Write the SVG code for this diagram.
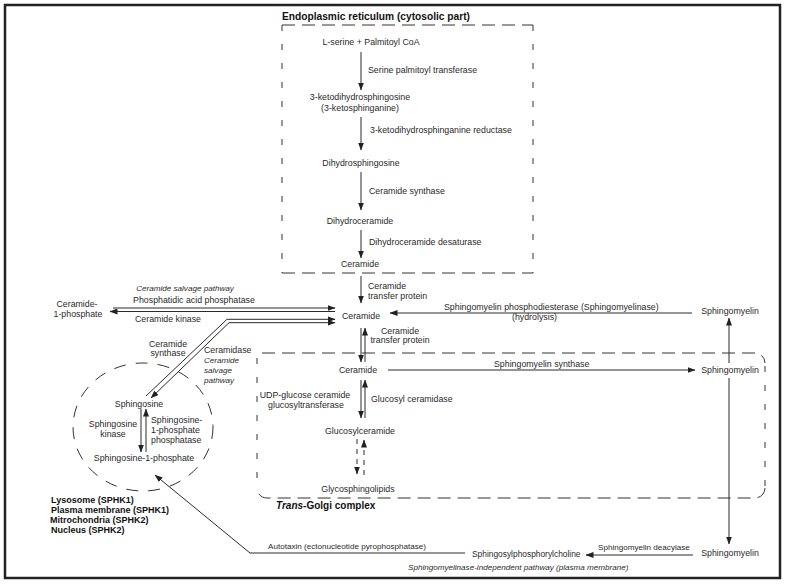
<svg xmlns="http://www.w3.org/2000/svg" width="788" height="585" viewBox="0 0 788 585">
<defs>
<marker id="ah" markerUnits="userSpaceOnUse" markerWidth="8" markerHeight="6" refX="7.5" refY="3" orient="auto">
<path d="M0,0 L8,3 L0,6 z" fill="#222"/>
</marker>
<marker id="ahs" markerUnits="userSpaceOnUse" markerWidth="8" markerHeight="6" refX="7.5" refY="3" orient="auto-start-reverse">
<path d="M0,0 L8,3 L0,6 z" fill="#222"/>
</marker>
<style>
text{font-family:"Liberation Sans",Arial,sans-serif;font-size:8.8px;fill:#2a2a2a}
.m{text-anchor:middle}
.b{font-weight:bold;fill:#111}
.my{font-size:8.1px}
.it{font-style:italic}
.c{stroke:#2a2a2a;stroke-width:1;fill:none}
.a{marker-end:url(#ah)}
.dh{stroke:#333;stroke-width:1;stroke-dasharray:13 7;fill:none}
.dv{stroke:#333;stroke-width:1;stroke-dasharray:6 13;fill:none}
</style>
</defs>
<rect x="0" y="0" width="788" height="585" fill="#fff"/>
<rect x="5" y="5" width="775" height="573" fill="#fff" stroke="#222" stroke-width="2.5"/>

<g id="er-compartment">
<line class="dh" x1="282" y1="25" x2="533" y2="25"/>
<line class="dh" x1="282" y1="273" x2="533" y2="273"/>
<line class="dv" x1="282" y1="25" x2="282" y2="273"/>
<line class="dv" x1="533" y1="25" x2="533" y2="273"/>
<text class="b m" x="376" y="20" style="font-size:10.2px">Endoplasmic reticulum (cytosolic part)</text>
</g>

<g id="golgi-compartment">
<path class="dh" d="M262,353 H755 A10,10 0 0 1 765,363"/>
<path class="dh" d="M765,488 A10,10 0 0 1 755,498 H267 A10,10 0 0 1 257,488"/>
<line class="dv" x1="257" y1="358" x2="257" y2="488"/>
<line class="dv" x1="765" y1="366" x2="765" y2="488"/>
<text class="b" x="276" y="509" style="font-size:10px"><tspan font-style="italic">Trans</tspan>-Golgi complex</text>
</g>

<g id="cytosol-compartment">
<ellipse cx="143" cy="427" rx="70" ry="64" fill="none" stroke="#333" stroke-width="1" stroke-dasharray="12 10"/>
</g>

<g id="n-serine"><text class="m" x="371" y="45">L-serine + Palmitoyl CoA</text></g>
<g id="n-keto"><text class="m" x="360" y="100">3-ketodihydrosphingosine</text><text class="m" x="360" y="111">(3-ketosphinganine)</text></g>
<g id="n-dhsph"><text class="m" x="361" y="166">Dihydrosphingosine</text></g>
<g id="n-dhcer"><text class="m" x="360" y="224">Dihydroceramide</text></g>
<g id="n-cer-er"><text class="m" x="360" y="267">Ceramide</text></g>
<g id="n-cer"><text class="m" x="361" y="319">Ceramide</text></g>
<g id="n-cer-golgi"><text class="m" x="358" y="373">Ceramide</text></g>
<g id="n-glccer"><text class="m" x="360" y="434">Glucosylceramide</text></g>
<g id="n-gsl"><text class="m" x="358" y="492">Glycosphingolipids</text></g>
<g id="n-sm-top"><text class="m" x="730" y="314">Sphingomyelin</text></g>
<g id="n-sm-golgi"><text class="m" x="730" y="373">Sphingomyelin</text></g>
<g id="n-sm-pm"><text class="m" x="730" y="556">Sphingomyelin</text></g>
<g id="n-spc"><text x="472" y="557" style="font-size:8.4px">Sphingosylphosphorylcholine</text></g>
<g id="n-c1p"><text class="m" x="77" y="307">Ceramide-</text><text class="m" x="78" y="317">1-phosphate</text></g>
<g id="n-sph"><text class="m" x="139" y="407">Sphingosine</text></g>
<g id="n-s1p"><text class="m" x="144" y="461">Sphingosine-1-phosphate</text></g>
<g id="n-locations">
<text class="b" x="51" y="503" style="font-size:9px">Lysosome (SPHK1)</text>
<text class="b" x="51" y="513" style="font-size:9px">Plasma membrane (SPHK1)</text>
<text class="b" x="50" y="523" style="font-size:9px">Mitrochondria (SPHK2)</text>
<text class="b" x="51" y="533" style="font-size:9px">Nucleus (SPHK2)</text>
</g>

<g id="connectors">
<line class="c a" x1="361" y1="52" x2="361" y2="90"/>
<line class="c a" x1="361" y1="117" x2="361" y2="150"/>
<line class="c a" x1="361" y1="172" x2="361" y2="210"/>
<line class="c a" x1="361" y1="230" x2="361" y2="258"/>
<line class="c a" x1="361" y1="276" x2="361" y2="303"/>
<line class="c a" x1="692" y1="313" x2="390" y2="313"/>
<line class="c a" x1="361" y1="328" x2="361" y2="362"/>
<line class="c a" x1="365" y1="362" x2="365" y2="328"/>
<line class="c a" x1="388" y1="370" x2="695" y2="370"/>
<line class="c a" x1="729" y1="363" x2="729" y2="318"/>
<line class="c a" x1="729" y1="378" x2="729" y2="544"/>
<line class="c a" x1="361" y1="380" x2="361" y2="418"/>
<line class="c a" x1="365" y1="418" x2="365" y2="380"/>
<line class="c a" x1="357" y1="439" x2="357" y2="474" stroke-dasharray="5 5"/>
<line class="c a" x1="364" y1="475" x2="364" y2="440" stroke-dasharray="5 5"/>
<line class="c a" x1="693" y1="555" x2="586" y2="555"/>
<polyline class="c a" points="465,553 250,553 155,475"/>
<line class="c a" x1="113" y1="308" x2="335" y2="308"/>
<line class="c a" x1="335" y1="311.5" x2="110" y2="311.5"/>
<polyline class="c a" points="146,396 227,319.3 335,319.3"/>
<polyline class="c a" points="151,398 229,322.7 335,322.7" marker-start="url(#ahs)"/>
<line class="c a" x1="141" y1="409" x2="141" y2="452"/>
<line class="c a" x1="146" y1="452" x2="146" y2="409"/>
</g>

<g id="labels">
<text x="368" y="73">Serine palmitoyl transferase</text>
<text x="370" y="133">3-ketodihydrosphinganine reductase</text>
<text x="369" y="194">Ceramide synthase</text>
<text x="369" y="245">Dihydroceramide desaturase</text>
<text x="368" y="289">Ceramide</text>
<text x="368" y="299">transfer protein</text>
<text x="444" y="310">Sphingomyelin phosphodiesterase (Sphingomyelinase)</text>
<text x="512" y="320">(hydrolysis)</text>
<text class="m" x="400" y="334">Ceramide</text>
<text class="m" x="400" y="343">transfer protein</text>
<text x="494" y="367">Sphingomyelin synthase</text>
<text class="m" x="305" y="398">UDP-glucose ceramide</text>
<text class="m" x="306" y="408">glucosyltransferase</text>
<text x="371" y="402">Glucosyl ceramidase</text>
<text class="m it my" x="185" y="291">Ceramide salvage pathway</text>
<text class="m" x="194" y="303">Phosphatidic acid phosphatase</text>
<text x="135" y="322">Ceramide kinase</text>
<text class="m" x="168" y="347">Ceramide</text>
<text class="m" x="168" y="356">synthase</text>
<text x="204" y="353">Ceramidase</text>
<text class="it my" x="204" y="363">Ceramide</text>
<text class="it my" x="204" y="373">salvage</text>
<text class="it my" x="204" y="383">pathway</text>
<text class="m" x="113" y="427">Sphingosine</text>
<text class="m" x="113" y="437">kinase</text>
<text x="151" y="423">Sphingosine-</text>
<text x="151" y="433">1-phosphate</text>
<text x="151" y="443">phosphatase</text>
<text class="my" x="268" y="549">Autotaxin (ectonucleotide pyrophosphatase)</text>
<text class="my" x="598" y="550">Sphingomyelin deacylase</text>
<text class="it my" x="408" y="570">Sphingomyelinase-independent pathway (plasma membrane)</text>
</g>
</svg>
